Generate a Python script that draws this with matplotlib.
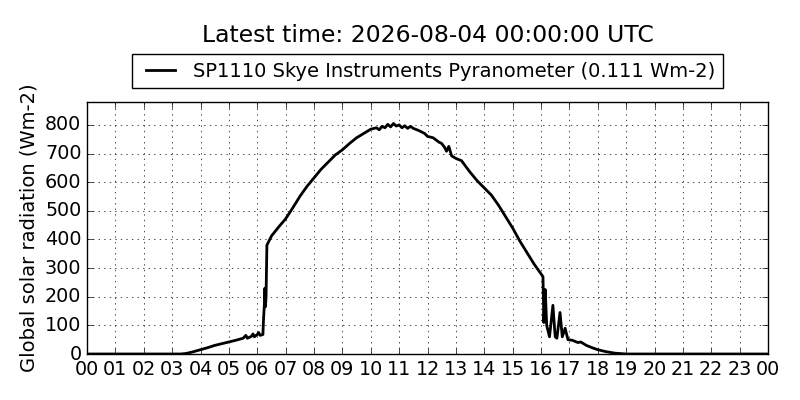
import matplotlib
matplotlib.use('Agg')
import matplotlib.pyplot as plt

plt.style.use('classic')

# hours since midnight and global radiation (Wm-2)
hours = [0.0, 3.3, 3.5, 3.75, 4.0, 4.25, 4.5, 4.75, 5.0, 5.25, 5.5, 5.6, 5.65, 5.8,
         5.85, 5.9, 6.0, 6.05, 6.1, 6.2, 6.22, 6.25, 6.27, 6.29, 6.31, 6.34, 6.5,
         6.75, 7.0, 7.25, 7.5, 7.75, 8.0, 8.25, 8.5, 8.75, 9.0, 9.25, 9.5, 9.75,
         10.0, 10.2, 10.3, 10.4, 10.5, 10.6, 10.7, 10.8, 10.9, 11.0, 11.1, 11.2,
         11.3, 11.4, 11.5, 11.7, 11.9, 12.0, 12.2, 12.4, 12.5, 12.6, 12.67, 12.75,
         12.85, 13.0, 13.2, 13.4, 13.5, 13.75, 14.0, 14.25, 14.5, 14.75, 15.0,
         15.25, 15.5, 15.75, 16.0, 16.07, 16.1, 16.15, 16.2, 16.3, 16.42, 16.5,
         16.56, 16.67, 16.75, 16.85, 16.95, 17.1, 17.3, 17.4, 17.6, 17.8, 18.0,
         18.3, 18.6, 19.0, 24.0]
radiation = [0, 0, 2, 8, 15, 22, 30, 36, 42, 48, 55, 65, 55, 62,
             70, 60, 68, 75, 65, 68, 120, 170, 230, 165, 200, 380, 412,
             443, 472, 510, 550, 585, 615, 645, 670, 695, 713, 735, 755, 770,
             785, 790, 783, 795, 790, 802, 793, 805, 796, 800, 790, 797,
             788, 795, 788, 780, 770, 760, 755, 740, 735, 722, 708, 725,
             692, 683, 675, 648, 635, 605, 580, 555, 520, 480, 440,
             395, 355, 315, 280, 270, 110, 225, 100, 60, 170, 60,
             55, 145, 60, 90, 50, 48, 40, 42, 30, 22, 15,
             8, 3, 0, 0]

tick_hours = list(range(0, 25))
tick_labels = ['%02d' % (h % 24) for h in tick_hours]

fig = plt.figure(figsize=(8, 4), dpi=100, facecolor='white')
ax = fig.add_axes([0.10875, 0.115, 0.85125, 0.63])

ax.plot(hours, radiation, color='black', lw=2,
        label='SP1110 Skye Instruments Pyranometer (0.111 Wm-2)')
ax.set_xlim(0, 24)
ax.set_ylim(0, 880)
ax.set_xticks(tick_hours)
ax.set_xticklabels(tick_labels)
ax.set_yticks(range(0, 900, 100))
ax.tick_params(labelsize=13.8)
ax.grid(True)
ax.set_ylabel('Global solar radiation (Wm-2)', fontsize=14)
ax.yaxis.set_label_coords(-0.071, 0.5)

ax.legend(loc='lower center', bbox_to_anchor=(0.5, 1.0), borderaxespad=0.7,
          fontsize=14, handlelength=2.1, handletextpad=0.6)
fig.text(0.535, 0.912, 'Latest time: 2026-08-04 00:00:00 UTC',
         ha='center', va='center', fontsize=16.9)

fig.savefig('out.png', dpi=100, facecolor='white')
